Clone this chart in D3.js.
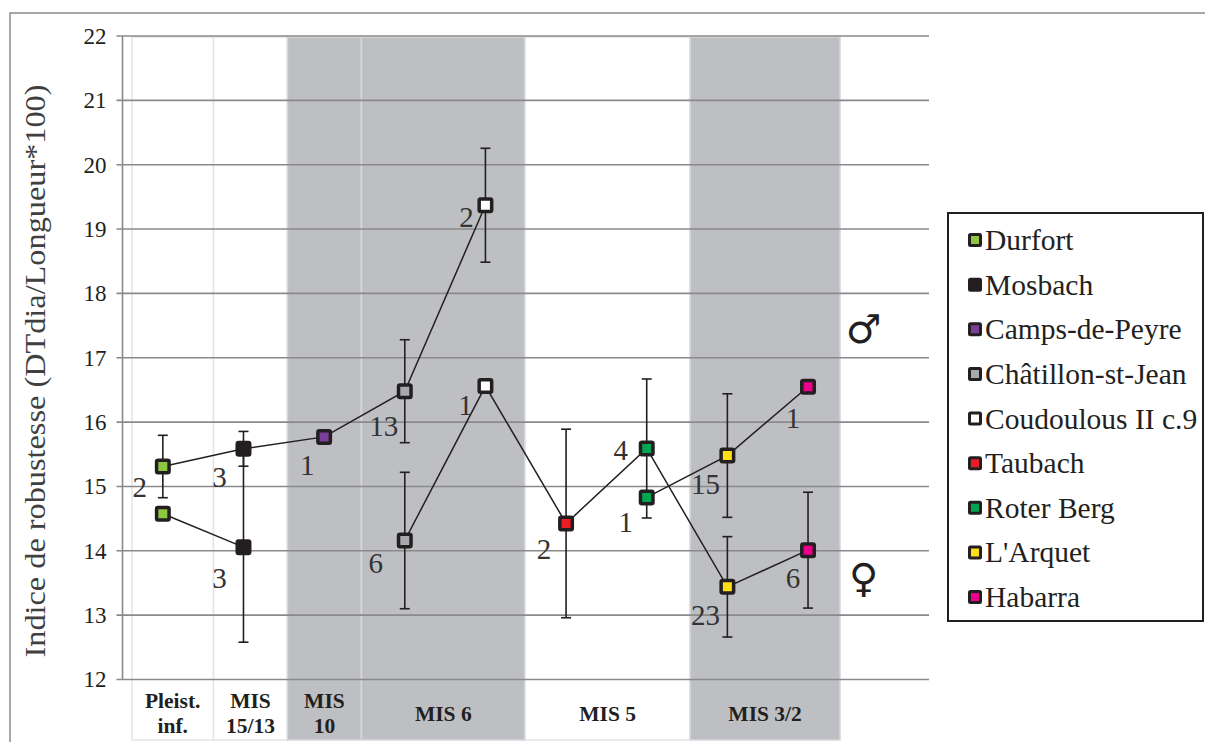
<!DOCTYPE html>
<html>
<head>
<meta charset="utf-8">
<script src="https://cdn.jsdelivr.net/npm/d3@7"></script>
<style>
  html, body { margin: 0; padding: 0; background: #fff; }
  svg { display: block; }
</style>
</head>
<body>
<svg id="chart" width="1205" height="742"></svg>
<script>
// ---------------- DATA ----------------
const categories = ["Durfort", "Mosbach", "Camps-de-Peyre", "Châtillon-st-Jean",
  "Coudoulous II c.9", "Taubach", "Roter Berg", "L'Arquet", "Habarra"];
const siteColors = ["#8dc63f", "#231f20", "#7b3f98", "#a7a9ac", "#ffffff",
  "#ed1c24", "#00a651", "#ffde17", "#ec008c"];

// upper (male) series
const maleValues = [15.31, 15.585, 15.77, 16.48, 19.37, null, 14.83, 15.48, 16.55];
const maleErrors = [0.485, 0.27, null, 0.80, 0.885, null, null, 0.96, null];
const maleCounts = [2, 3, 1, 13, 2, null, 1, 15, 1];

// lower (female) series
const femaleValues = [14.575, 14.057, null, 14.16, 16.56, 14.425, 15.59, 13.44, 14.01];
const femaleErrors = [null, 1.477, null, 1.06, null, 1.465, 1.08, 0.78, 0.90];
const femaleCounts = [null, 3, null, 6, 1, 2, 4, 23, 6];

const yTicks = [12, 13, 14, 15, 16, 17, 18, 19, 20, 21, 22];

// period bands (in category units)
const periodLabels = [["Pleist.", "inf."], ["MIS", "15/13"], ["MIS", "10"], ["MIS 6"], ["MIS 5"], ["MIS 3/2"]];
const periodStart = [0.118, 1.128, 2.045, 2.962, 4.994, 7.038];
const periodEnd   = [1.128, 2.045, 2.962, 4.994, 7.038, 8.897];
const periodShaded = [false, false, true, true, false, true];

const yTitle = "Indice de robustesse (DTdia/Longueur*100)";

// ---------------- DRAW ----------------
const SERIF = '"Liberation Serif", Tinos, "Times New Roman", Times, "DejaVu Serif", serif';
const svg = d3.select("#chart");
const nSlots = 10; // 9 sites + one empty slot for the sex symbols
const x = d3.scaleLinear().domain([0, nSlots]).range([122.5, 929]);
const y = d3.scaleLinear().domain([12, 22]).range([679.5, 36]);
const cx = i => x(i + 0.5);
const bottom = 740;

// outer chart border
svg.append("rect").attr("x", 10).attr("y", 13).attr("width", 1210).attr("height", 760)
  .attr("fill", "none").attr("stroke", "#8a8a8a").attr("stroke-width", 1.5);

// bands
const bands = svg.append("g");
periodLabels.forEach((lab, i) => {
  const x0 = x(periodStart[i]), x1 = x(periodEnd[i]);
  bands.append("rect")
    .attr("x", x0).attr("y", y(22) + 1)
    .attr("width", x1 - x0).attr("height", bottom - y(22) - 1)
    .attr("fill", periodShaded[i] ? "#bebfc3" : "#ffffff")
    .attr("stroke", periodShaded[i] ? "#d6d7da" : "#e4e4e4")
    .attr("stroke-width", 1.5);
});

// gridlines + y axis
const yAxis = d3.axisLeft(y).tickValues(yTicks).tickSize(0).tickPadding(16).tickFormat(d3.format("d"));
const gy = svg.append("g").attr("transform", `translate(${x(0)},0)`).call(yAxis)
  .attr("font-family", SERIF);
gy.select(".domain").remove();
gy.selectAll("text").attr("font-size", 23).attr("fill", "#231f20")
  .attr("font-family", SERIF);

const grid = svg.append("g");
grid.selectAll("line").data(yTicks).join("line")
  .attr("x1", x(0) - 6).attr("x2", x(nSlots))
  .attr("y1", d => y(d)).attr("y2", d => y(d))
  .attr("stroke", "#8a8a8a").attr("stroke-width", 1.6);
svg.append("line").attr("x1", x(0)).attr("x2", x(0)).attr("y1", y(22)).attr("y2", y(12))
  .attr("stroke", "#8a8a8a").attr("stroke-width", 1.6);

// period labels
periodLabels.forEach((lab, i) => {
  const mx = (x(periodStart[i]) + x(periodEnd[i])) / 2;
  const t = svg.append("text")
    .attr("text-anchor", "middle").attr("font-family", SERIF)
    .attr("font-size", 21.5).attr("font-weight", "bold").attr("fill", "#231f20");
  const ys = lab.length === 2 ? [701, 726] : [714];
  lab.forEach((l, k) => {
    t.append("tspan").attr("x", mx).attr("y", ys[k]).attr("dominant-baseline", "central").text(l);
  });
});

// y-axis title
svg.append("text")
  .attr("transform", `translate(35,371) rotate(-90)`)
  .attr("text-anchor", "middle").attr("dominant-baseline", "central")
  .attr("font-family", SERIF)
  .attr("font-size", 29).attr("fill", "#404040")
  .attr("textLength", 573).attr("lengthAdjust", "spacingAndGlyphs")
  .text(yTitle);

// build points
function pts(values, errors, counts, key) {
  return values.map((v, i) => ({ i, v, e: errors[i], n: counts[i], key }))
    .filter(d => d.v != null);
}
const male = pts(maleValues, maleErrors, maleCounts, "m");
const female = pts(femaleValues, femaleErrors, femaleCounts, "f");

// lines (break at missing values)
const line = d3.line().defined(d => d.v != null).x(d => cx(d.i)).y(d => y(d.v));
[maleValues, femaleValues].forEach(vals => {
  svg.append("path")
    .datum(vals.map((v, i) => ({ i, v })))
    .attr("d", line).attr("fill", "none")
    .attr("stroke", "#231f20").attr("stroke-width", 1.5);
});

// error bars
const all = male.concat(female);
const eb = svg.append("g").attr("stroke", "#231f20").attr("stroke-width", 1.6);
all.filter(d => d.e != null).forEach(d => {
  const xx = cx(d.i), y1 = y(d.v + d.e), y2 = y(d.v - d.e);
  eb.append("line").attr("x1", xx).attr("x2", xx).attr("y1", y1).attr("y2", y2);
  eb.append("line").attr("x1", xx - 5).attr("x2", xx + 5).attr("y1", y1).attr("y2", y1);
  eb.append("line").attr("x1", xx - 5).attr("x2", xx + 5).attr("y1", y2).attr("y2", y2);
});

// markers
const ms = 12.5;
svg.append("g").selectAll("rect").data(all).join("rect")
  .attr("x", d => cx(d.i) - ms / 2).attr("y", d => y(d.v) - ms / 2)
  .attr("width", ms).attr("height", ms).attr("rx", 1.5)
  .attr("fill", d => siteColors[d.i])
  .attr("stroke", "#231f20").attr("stroke-width", 3.5);

// count labels (offsets from marker, Excel-like placement)
const labelNudge = {
  m0: [-23, 20], m1: [-24, 28], m2: [-17, 28], m3: [-21, 35], m4: [-19, 12],
  m6: [-21, 25], m7: [-22, 28], m8: [-15, 31],
  f1: [-24, 31], f3: [-29, 22], f4: [-20, 19], f5: [-22, 26], f6: [-26, 2],
  f7: [-22, 28], f8: [-15, 28]
};
svg.append("g").selectAll("text").data(all.filter(d => d.n != null)).join("text")
  .attr("x", d => cx(d.i) + (labelNudge[d.key + d.i] || [-22, 26])[0])
  .attr("y", d => y(d.v) + (labelNudge[d.key + d.i] || [-22, 26])[1])
  .attr("text-anchor", "middle").attr("dominant-baseline", "central")
  .attr("font-family", SERIF)
  .attr("font-size", 29).attr("fill", "#333")
  .text(d => d.n);

// sex symbols
svg.append("text").attr("x", cx(9) - 25).attr("y", y(17.45))
  .attr("text-anchor", "middle").attr("dominant-baseline", "central")
  .attr("font-size", 40).attr("fill", "#231f20")
  .attr("font-family", '"DejaVu Sans", sans-serif').text("\u2642");
svg.append("text").attr("x", cx(9) - 25).attr("y", y(13.58))
  .attr("text-anchor", "middle").attr("dominant-baseline", "central")
  .attr("font-size", 40).attr("fill", "#231f20")
  .attr("font-family", '"DejaVu Sans", sans-serif').text("\u2640");

// legend
const lg = svg.append("g");
lg.append("rect").attr("x", 948).attr("y", 213).attr("width", 255).attr("height", 408)
  .attr("fill", "#fff").attr("stroke", "#231f20").attr("stroke-width", 2);
const ly = d3.scalePoint().domain(categories).range([240, 597]);
categories.forEach((c, i) => {
  lg.append("rect").attr("x", 975 - 5.5).attr("y", ly(c) - 5.5)
    .attr("width", 11).attr("height", 11).attr("rx", 1)
    .attr("fill", siteColors[i]).attr("stroke", "#231f20").attr("stroke-width", 3);
  lg.append("text").attr("x", 985).attr("y", ly(c))
    .attr("dominant-baseline", "central").attr("font-family", SERIF)
    .attr("font-size", 29.5).attr("fill", "#231f20")
    .text(c);
});
</script>
</body>
</html>
